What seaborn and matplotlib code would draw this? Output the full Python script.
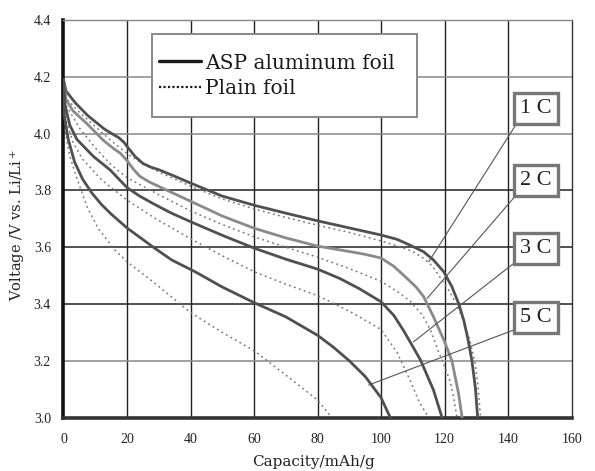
import matplotlib
matplotlib.use("Agg")
import matplotlib.pyplot as plt
import seaborn as sns
import pandas as pd
from matplotlib.lines import Line2D
from matplotlib.patches import Rectangle

# ---------------- data ----------------
rates = ["1 C", "2 C", "3 C", "5 C"]

asp_1c_x = [0, 0.8, 3.6, 7.5, 13, 16, 17.5, 19, 20.5, 22.5, 25, 27.5, 30, 35, 40, 50, 60, 70, 80, 90, 100, 105, 109, 113.4, 116.5, 119.7, 122.3, 124.4, 126, 127.3, 128.6, 129.7, 130.4]
asp_1c_v = [4.19, 4.15, 4.11, 4.065, 4.015, 3.995, 3.985, 3.97, 3.948, 3.92, 3.895, 3.882, 3.873, 3.85, 3.826, 3.78, 3.748, 3.72, 3.693, 3.668, 3.643, 3.628, 3.608, 3.584, 3.555, 3.514, 3.461, 3.402, 3.344, 3.279, 3.2, 3.103, 3.0]

plain_1c_x = [0, 0.8, 5, 10, 15, 20, 25, 30, 40, 50, 60, 70, 80, 90, 100, 105, 110, 113.4, 116, 118.1, 121.3, 123.9, 125.8, 128, 129.7, 130.6, 131.3]
plain_1c_v = [4.19, 4.125, 4.075, 4.025, 3.975, 3.93, 3.893, 3.865, 3.815, 3.77, 3.735, 3.705, 3.678, 3.652, 3.622, 3.605, 3.585, 3.561, 3.535, 3.502, 3.449, 3.396, 3.344, 3.27, 3.186, 3.10, 3.0]

asp_2c_x = [0, 0.8, 3, 7.3, 12.5, 15.7, 18, 20, 22, 24, 27, 32.5, 40, 50, 60, 70, 80, 90, 95, 100, 104, 108.2, 111, 113.4, 116.5, 120, 122.3, 124.4, 125.5]
asp_2c_v = [4.19, 4.12, 4.08, 4.036, 3.977, 3.948, 3.93, 3.905, 3.875, 3.85, 3.83, 3.801, 3.762, 3.71, 3.667, 3.633, 3.604, 3.585, 3.575, 3.562, 3.533, 3.49, 3.46, 3.426, 3.355, 3.267, 3.2, 3.084, 3.0]

plain_2c_x = [0, 0.8, 5, 10, 15, 20, 30, 40, 50, 60, 70, 80, 90, 100, 105, 109.2, 112.9, 115.5, 118.1, 120, 121.8, 123, 123.9]
plain_2c_v = [4.19, 4.10, 4.02, 3.95, 3.89, 3.845, 3.785, 3.728, 3.68, 3.637, 3.60, 3.565, 3.525, 3.48, 3.445, 3.41, 3.363, 3.31, 3.232, 3.18, 3.126, 3.06, 3.0]

asp_3c_x = [0, 0.5, 2, 4.2, 9.4, 14.7, 20, 24, 28.5, 34, 40, 50, 60, 70, 80, 87, 93, 100, 104, 107, 110, 112.4, 116.5, 119.2]
asp_3c_v = [4.19, 4.10, 4.03, 3.98, 3.92, 3.872, 3.81, 3.78, 3.752, 3.72, 3.69, 3.642, 3.597, 3.558, 3.523, 3.49, 3.455, 3.408, 3.36, 3.308, 3.25, 3.203, 3.097, 3.0]

plain_3c_x = [0, 0.8, 3, 6, 12, 20, 28.8, 40, 50, 60, 70, 80, 91.3, 100, 105, 109, 112, 115]
plain_3c_v = [4.19, 4.05, 3.97, 3.91, 3.837, 3.766, 3.702, 3.63, 3.57, 3.514, 3.47, 3.43, 3.367, 3.31, 3.23, 3.135, 3.055, 3.0]

asp_5c_x = [0, 0.3, 1.5, 3.5, 6, 9, 12, 15.2, 20, 28.8, 34.1, 41.4, 50, 60, 70, 80, 85, 90, 95, 100, 102.9]
asp_5c_v = [4.19, 4.06, 3.98, 3.90, 3.84, 3.79, 3.75, 3.715, 3.668, 3.596, 3.555, 3.514, 3.46, 3.405, 3.355, 3.29, 3.248, 3.20, 3.145, 3.07, 3.0]

plain_5c_x = [0, 0.3, 2, 4, 7.5, 11, 16.2, 20, 28.8, 40, 50, 60, 70, 80, 84.5]
plain_5c_v = [4.19, 4.02, 3.92, 3.85, 3.74, 3.665, 3.59, 3.549, 3.473, 3.37, 3.30, 3.236, 3.15, 3.062, 3.0]

x_ticks = [0, 20, 40, 60, 80, 100, 120, 140, 160]
y_ticks = [3.0, 3.2, 3.4, 3.6, 3.8, 4.0, 4.2, 4.4]
legend_labels = ["ASP aluminum foil", "Plain foil"]

# annotation anchors (label box centre, leader-line end point)
label_box = {"1 C": (148.8, 4.089), "2 C": (148.8, 3.834), "3 C": (148.8, 3.595), "5 C": (148.8, 3.351)}
label_tip = {"1 C": (115.0, 3.549), "2 C": (114.5, 3.42), "3 C": (110.2, 3.267), "5 C": (96.1, 3.115)}

# ---------------- build table ----------------
curves = {
    ("ASP", "1 C"): (asp_1c_x, asp_1c_v), ("Plain", "1 C"): (plain_1c_x, plain_1c_v),
    ("ASP", "2 C"): (asp_2c_x, asp_2c_v), ("Plain", "2 C"): (plain_2c_x, plain_2c_v),
    ("ASP", "3 C"): (asp_3c_x, asp_3c_v), ("Plain", "3 C"): (plain_3c_x, plain_3c_v),
    ("ASP", "5 C"): (asp_5c_x, asp_5c_v), ("Plain", "5 C"): (plain_5c_x, plain_5c_v),
}
rows = []
for (foil, rate), (xs, vs) in curves.items():
    for xv, vv in zip(xs, vs):
        rows.append({"foil": foil, "rate": rate, "cap": xv, "volt": vv})
df = pd.DataFrame(rows)

# ---------------- style ----------------
sns.set_theme(style="white")
plt.rcParams["font.family"] = ["DejaVu Serif"]
plt.rcParams["mathtext.fontset"] = "dejavuserif"

fig = plt.figure(figsize=(5.95, 4.71), dpi=100)
ax = fig.add_axes([0.1067, 0.1132, 0.8541, 0.8443])

solid_colors = {"1 C": "#505050", "2 C": "#8a8a8a", "3 C": "#505050", "5 C": "#505050"}

# grid
for gx in x_ticks[1:-1]:
    ax.axvline(gx, color="#222222", lw=1.0, zorder=0)
for gy in y_ticks[1:-1]:
    col = "#888888" if gy in (3.2, 4.0, 4.2) else "#222222"
    ax.axhline(gy, color=col, lw=1.1, zorder=0)

for (foil, rate), sub in df.groupby(["foil", "rate"], sort=False):
    if foil == "ASP":
        sns.lineplot(data=sub, x="cap", y="volt", ax=ax, sort=False, estimator=None,
                     color=solid_colors[rate], lw=2.0, zorder=3, legend=False)
    else:
        sns.lineplot(data=sub, x="cap", y="volt", ax=ax, sort=False, estimator=None,
                     color="#777777", lw=1.1, ls=(0, (1.2, 2.2)), zorder=2, legend=False)

for rate in rates:
    ax.annotate(rate, xy=label_tip[rate], xytext=label_box[rate], ha="center", va="center",
                fontsize=16, color="#222222", zorder=5,
                family=["Liberation Serif"],
                bbox=dict(boxstyle="square,pad=0.27", fc="white", ec="#777777", lw=2.4),
                arrowprops=dict(arrowstyle="-", color="#555555", lw=0.8, relpos=(0, 0),
                                shrinkA=0, shrinkB=0))

ax.set_xlim(0, 160)
ax.set_ylim(3.0, 4.4)
ax.set_xticks(x_ticks)
ax.set_yticks(y_ticks)
ax.set_xticklabels([str(t) for t in x_ticks], family=["Liberation Serif"])
ax.set_yticklabels([f"{t:.1f}" for t in y_ticks], family=["Liberation Serif"])
ax.tick_params(axis="both", length=0, labelsize=10, colors="#222222")
ax.tick_params(axis="x", pad=11)
ax.tick_params(axis="y", pad=9)

ax.set_xlabel("Capacity/mAh/g", fontsize=11, color="#222222")
ax.set_ylabel("Voltage /V vs. Li/Li$^+$", fontsize=10.5, color="#222222")
ax.xaxis.set_label_coords(0.491, -0.111)
ax.xaxis.label.set_va("center")
ax.yaxis.set_label_coords(-0.0915, 0.485)
ax.yaxis.label.set_va("center")

for side, (lw, col) in {"left": (2.6, "#111111"), "bottom": (2.6, "#333333"),
                        "top": (1.0, "#888888"), "right": (1.0, "#333333")}.items():
    ax.spines[side].set_visible(True)
    ax.spines[side].set_linewidth(lw)
    ax.spines[side].set_color(col)

# legend box and entries
ax.add_patch(Rectangle((0.1736, 0.7569), 0.695 - 0.1736, 0.964 - 0.7569, transform=ax.transAxes,
                       fc="white", ec="#888888", lw=1.4, zorder=6))
handles = [Line2D([], [], color="#1a1a1a", lw=2.4),
           Line2D([], [], color="#1a1a1a", lw=1.6, ls=(0, (1, 1)))]
leg = ax.legend(handles, legend_labels, loc="center left", bbox_to_anchor=(0.188, 0.8604),
                borderaxespad=0, borderpad=0, fontsize=14.5, handlelength=2.1,
                handletextpad=0.2, labelspacing=0.3, frameon=False)
leg.set_zorder(7)
for t in leg.get_texts():
    t.set_color("#1a1a1a")

fig.savefig("out.png", dpi=100)
